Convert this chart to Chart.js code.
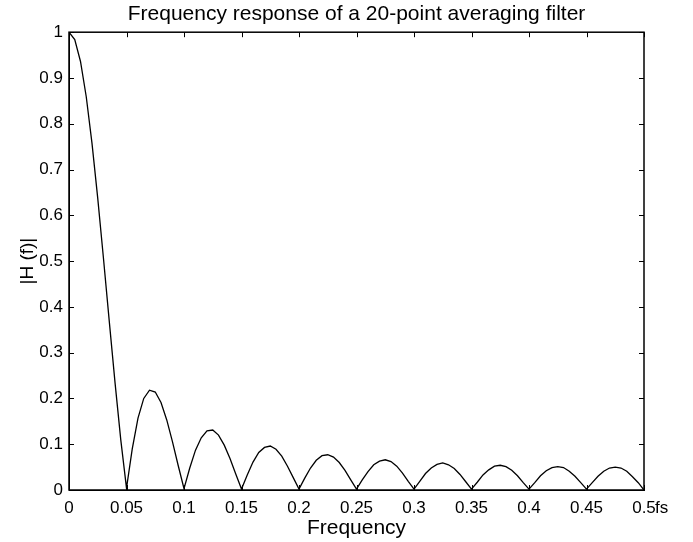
<!DOCTYPE html>
<html>
<head>
<meta charset="utf-8">
<script src="https://cdn.jsdelivr.net/npm/chart.js@4.4.1/dist/chart.umd.min.js"></script>
<style>
  html, body { margin: 0; padding: 0; background: #fff; }
  #wrap { width: 693px; height: 542px; }
</style>
</head>
<body>
<div id="wrap"><canvas id="chartRespuesta" width="693" height="542"></canvas></div>
<script>
// frecuencias (fraccion de fs)
const freqs = [
  0, 0.005, 0.01, 0.015, 0.02, 0.025, 0.03, 0.035, 0.04, 0.045,
  0.05, 0.055, 0.06, 0.065, 0.07, 0.075, 0.08, 0.085, 0.09, 0.095,
  0.1, 0.105, 0.11, 0.115, 0.12, 0.125, 0.13, 0.135, 0.14, 0.145,
  0.15, 0.155, 0.16, 0.165, 0.17, 0.175, 0.18, 0.185, 0.19, 0.195,
  0.2, 0.205, 0.21, 0.215, 0.22, 0.225, 0.23, 0.235, 0.24, 0.245,
  0.25, 0.255, 0.26, 0.265, 0.27, 0.275, 0.28, 0.285, 0.29, 0.295,
  0.3, 0.305, 0.31, 0.315, 0.32, 0.325, 0.33, 0.335, 0.34, 0.345,
  0.35, 0.355, 0.36, 0.365, 0.37, 0.375, 0.38, 0.385, 0.39, 0.395,
  0.4, 0.405, 0.41, 0.415, 0.42, 0.425, 0.43, 0.435, 0.44, 0.445,
  0.45, 0.455, 0.46, 0.465, 0.47, 0.475, 0.48, 0.485, 0.49, 0.495,
  0.5
];

// |H(f)|
const magnitud = [
  1, 0.984, 0.936, 0.859, 0.757, 0.637, 0.505, 0.369, 0.235, 0.110,
  0.004, 0.090, 0.157, 0.200, 0.218, 0.214, 0.191, 0.153, 0.105, 0.053,
  0.003, 0.048, 0.087, 0.114, 0.129, 0.131, 0.120, 0.098, 0.069, 0.035,
  0.002, 0.033, 0.061, 0.082, 0.093, 0.096, 0.089, 0.074, 0.052, 0.027,
  0.002, 0.026, 0.048, 0.065, 0.075, 0.077, 0.072, 0.060, 0.043, 0.022,
  0.002, 0.022, 0.040, 0.055, 0.063, 0.066, 0.062, 0.052, 0.037, 0.019,
  0.002, 0.019, 0.036, 0.048, 0.056, 0.059, 0.055, 0.047, 0.034, 0.018,
  0.002, 0.017, 0.033, 0.044, 0.052, 0.054, 0.051, 0.043, 0.031, 0.016,
  0.002, 0.016, 0.031, 0.042, 0.049, 0.051, 0.049, 0.041, 0.030, 0.016,
  0.002, 0.016, 0.030, 0.041, 0.048, 0.050, 0.048, 0.041, 0.029, 0.016,
  0
];

const xTicks = [0, 0.05, 0.1, 0.15, 0.2, 0.25, 0.3, 0.35, 0.4, 0.45, 0.5];
const yTicks = [0, 0.1, 0.2, 0.3, 0.4, 0.5, 0.6, 0.7, 0.8, 0.9, 1];

const fuente = "'Liberation Sans', Arial, sans-serif";

// marco y ticks hacia adentro (estilo matlab) + "fs"
const marcoPlugin = {
  id: 'marco',
  afterDraw(chart) {
    const ctx = chart.ctx;
    const a = chart.chartArea;
    const sx = chart.scales.x, sy = chart.scales.y;
    const len = 5;
    ctx.save();
    ctx.strokeStyle = '#000';
    ctx.lineWidth = 1;
    ctx.beginPath();
    xTicks.forEach(v => {
      const px = Math.round(sx.getPixelForValue(v)) + 0.5;
      ctx.moveTo(px, a.bottom); ctx.lineTo(px, a.bottom - len);
      ctx.moveTo(px, a.top); ctx.lineTo(px, a.top + len);
    });
    yTicks.forEach(v => {
      const py = Math.round(sy.getPixelForValue(v)) + 0.5;
      ctx.moveTo(a.left, py); ctx.lineTo(a.left + len, py);
      ctx.moveTo(a.right, py); ctx.lineTo(a.right - len, py);
    });
    ctx.stroke();
    ctx.lineWidth = 1.5;
    ctx.strokeRect(a.left, a.top, a.right - a.left, a.bottom - a.top);
    ctx.fillStyle = '#000';
    ctx.font = '17px ' + fuente;
    ctx.textBaseline = 'middle';
    ctx.fillText('fs', sx.getPixelForValue(0.5) + 11, a.bottom + 18);
    ctx.restore();
  }
};

const chartRespuesta = document.getElementById('chartRespuesta');

new Chart(chartRespuesta, {
  type: 'line',
  data: {
    datasets: [{
      label: '|H(f)|',
      data: freqs.map((f, i) => ({ x: f, y: magnitud[i] })),
      borderColor: '#000',
      borderWidth: 1.3,
      pointRadius: 0,
      tension: 0,
      fill: false
    }]
  },
  options: {
    responsive: false,
    animation: false,
    layout: { padding: { left: 20, right: 0, top: 0, bottom: 0 } },
    plugins: {
      legend: { display: false },
      tooltip: { enabled: false },
      title: {
        display: true,
        text: 'Frequency response of a 20-point averaging filter',
        color: '#000',
        font: { family: fuente, size: 21, weight: 'normal' },
        padding: { top: 2, bottom: 5 }
      }
    },
    scales: {
      x: {
        type: 'linear',
        min: 0,
        max: 0.5,
        afterFit: s => { s.height = 52; },
        afterBuildTicks: s => { s.ticks = xTicks.map(v => ({ value: v })); },
        grid: { display: false, drawTicks: false },
        border: { display: true, color: '#000', width: 1 },
        ticks: {
          color: '#000',
          padding: 8,
          maxRotation: 0,
          autoSkip: false,
          font: { family: fuente, size: 17 },
          callback: v => String(Number(v.toFixed(2)))
        },
        title: {
          display: true,
          text: 'Frequency',
          color: '#000',
          font: { family: fuente, size: 21 },
          padding: { top: 0, bottom: 1 }
        }
      },
      y: {
        min: 0,
        max: 1,
        afterFit: s => { s.width = 49; },
        afterBuildTicks: s => { s.ticks = yTicks.map(v => ({ value: v })); },
        grid: { display: false, drawTicks: false },
        border: { display: true, color: '#000', width: 1 },
        ticks: {
          color: '#000',
          padding: 6,
          font: { family: fuente, size: 17 },
          callback: v => String(Number(v.toFixed(2)))
        },
        title: {
          display: true,
          text: '|H (f)|',
          color: '#000',
          font: { family: fuente, size: 19 },
          padding: { top: -4, bottom: 0 }
        }
      },
      // eje vacio a la derecha para reservar margen
      yDer: {
        position: 'right',
        min: 0,
        max: 1,
        afterFit: s => { s.width = 49; },
        grid: { display: false, drawTicks: false },
        border: { display: false },
        ticks: { display: false }
      }
    }
  },
  plugins: [marcoPlugin]
});
</script>
</body>
</html>
